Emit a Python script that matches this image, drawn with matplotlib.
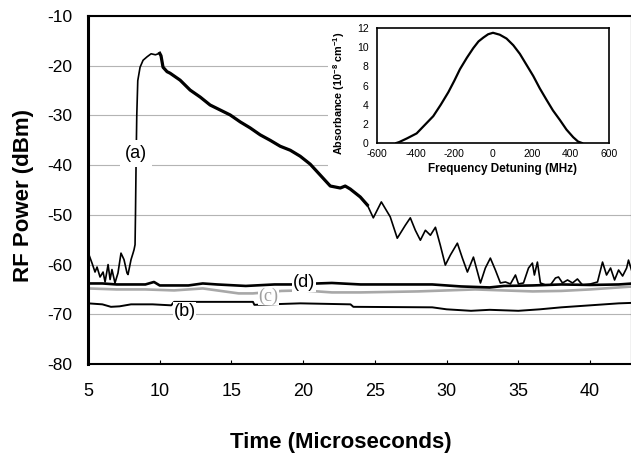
import matplotlib
matplotlib.use("Agg")
import matplotlib.pyplot as plt
from matplotlib.patches import Rectangle

plt.rcParams['font.family'] = ['Liberation Sans', 'DejaVu Sans']
plt.rcParams['mathtext.fontset'] = 'custom'
plt.rcParams['mathtext.rm'] = 'Liberation Sans'
plt.rcParams['mathtext.bf'] = 'Liberation Sans:bold'
plt.rcParams['axes.unicode_minus'] = False

# ---- data: curve (a) ----
t_a = [5.00, 5.28, 5.49, 5.63, 5.84, 6.05, 6.19, 6.40, 6.54, 6.67, 6.88, 7.09, 7.30, 7.51,
       7.72, 7.79, 8.00, 8.14, 8.21, 8.28, 8.31, 8.35, 8.40, 8.47, 8.63, 8.84, 9.12, 9.40,
       9.70, 10.00, 10.09, 10.23, 10.51, 10.72, 11.42, 12.12, 12.82, 13.51, 14.21, 14.91,
       15.61, 16.30, 17.00, 17.70, 18.40, 19.10, 19.79, 20.49, 21.19, 21.89, 22.59, 22.93,
       23.28, 23.63, 23.98, 24.47, 24.89, 25.45, 26.07, 26.56, 27.12, 27.47, 27.82, 28.17,
       28.52, 28.87, 29.22, 29.56, 29.91, 30.26, 30.75, 31.10, 31.45, 31.87, 32.36, 32.70,
       33.05, 33.40, 33.75, 34.10, 34.45, 34.80, 35.01, 35.36, 35.71, 35.98, 36.12, 36.33,
       36.54, 36.89, 37.24, 37.59, 37.80, 38.08, 38.43, 38.78, 39.12, 39.47, 40.03, 40.52,
       40.87, 41.15, 41.43, 41.71, 41.99, 42.27, 42.55, 42.68, 42.89]
p_a = [-57.5, -59.7, -61.5, -60.5, -62.5, -61.5, -63.5, -60.0, -63.0, -61.0, -63.7, -61.7,
       -57.7, -59.0, -61.7, -62.0, -59.0, -57.7, -57.0, -56.0, -50.0, -40.0, -30.0, -23.0,
       -20.3, -18.9, -18.2, -17.6, -17.8, -17.5, -18.0, -20.3, -21.2, -21.5, -22.9, -24.9,
       -26.3, -27.9, -28.9, -29.9, -31.3, -32.5, -33.9, -35.0, -36.2, -37.0, -38.2, -39.8,
       -42.0, -44.2, -44.6, -44.2, -44.8, -45.6, -46.4, -48.0, -50.6, -47.4, -50.4, -54.7,
       -52.1, -50.6, -53.1, -55.1, -53.1, -54.1, -52.5, -56.1, -60.1, -58.1, -55.7, -58.7,
       -61.5, -58.5, -63.7, -60.7, -58.7, -61.1, -63.7, -63.5, -63.9, -62.1, -63.9, -63.7,
       -60.7, -59.7, -62.1, -59.5, -63.7, -64.1, -64.1, -62.7, -62.5, -63.7, -63.1, -63.7,
       -62.9, -64.1, -63.9, -63.5, -59.5, -62.1, -60.7, -63.1, -61.1, -62.3, -60.7, -59.1,
       -61.1]

# ---- curve (d) ----
t_d = [5, 6, 7, 9, 9.6, 10, 12, 13, 14, 16, 18, 19.5, 21, 22, 24, 25, 27, 29, 31, 33, 34,
       36, 38, 40, 42, 43]
p_d = [-63.8, -63.8, -64.0, -64.0, -63.5, -64.2, -64.2, -63.8, -64.0, -64.3, -64.0, -64.0,
       -63.8, -63.7, -64.0, -64.0, -64.0, -64.0, -64.4, -64.6, -64.3, -64.2, -64.0, -64.1,
       -64.0, -63.8]

# ---- curve (c) ----
t_c = [5, 7, 9, 11, 13, 14, 15.5, 16.5, 18.5, 20, 22, 24, 26, 28, 30, 32, 34, 36, 38, 40,
       42, 43]
p_c = [-64.8, -65.0, -65.0, -65.2, -64.8, -65.2, -65.8, -65.8, -65.3, -65.2, -65.6, -65.6,
       -65.5, -65.4, -65.2, -65.0, -65.2, -65.4, -65.3, -65.0, -64.6, -64.4]

# ---- curve (b) ----
t_b = [5, 6, 6.6, 7.2, 8.0, 9.5, 10.8, 11.0, 16.5, 16.6, 19.8, 23.3, 23.5, 29, 30, 31.7,
       33, 35, 36.5, 38, 40, 42, 43]
p_b = [-67.8, -68.0, -68.5, -68.4, -68.0, -68.0, -68.2, -67.5, -67.5, -68.1, -67.8, -68.0,
       -68.5, -68.6, -69.0, -69.3, -69.1, -69.3, -69.0, -68.6, -68.2, -67.8, -67.7]

# ---- inset ----
f_in = [-500, -485, -446, -395, -352, -309, -270, -231, -200, -171, -135, -102, -75, -50,
        -25, 0, 35, 70, 105, 139, 172, 208, 242, 277, 310, 346, 380, 415, 440, 460]
a_in = [0.0, 0.1, 0.47, 1.0, 1.9, 2.8, 4.0, 5.3, 6.5, 7.7, 8.9, 9.9, 10.6, 11.0, 11.35,
        11.5, 11.3, 10.9, 10.2, 9.3, 8.2, 7.0, 5.7, 4.5, 3.4, 2.4, 1.4, 0.6, 0.15, 0.0]

x_ticks = [5, 10, 15, 20, 25, 30, 35, 40]
y_ticks = [-80, -70, -60, -50, -40, -30, -20, -10]
labels = ['(a)', '(b)', '(c)', '(d)']

W, H = 631, 455
fig = plt.figure(figsize=(W / 100, H / 100), dpi=100)
ax = fig.add_axes([88 / W, 1 - 364 / H, (630.5 - 88) / W, 348 / H])
ax.set_xlim(5, 42.82)
ax.set_ylim(-80, -10)
ax.set_xticks(x_ticks)
ax.set_yticks(y_ticks)
ax.set_axisbelow(True)
ax.grid(axis='y', color='#b4b4b4', lw=0.8)
ax.tick_params(axis='y', length=0, pad=11, labelsize=12.5)
ax.tick_params(axis='x', direction='in', length=3, width=0.8, pad=14, labelsize=13)
ax.spines['left'].set_linewidth(2.2)
ax.spines['top'].set_linewidth(1.5)
ax.spines['bottom'].set_linewidth(1.5)
ax.spines['right'].set_linewidth(0.8)

ax.plot(t_b, p_b, color='black', lw=1.4, zorder=2)
ax.plot(t_c, p_c, color='#a8a8a8', lw=1.9, zorder=2.1)
ax.plot(t_d, p_d, color='black', lw=1.9, zorder=2.2)
ax.plot(t_a, p_a, color='black', lw=1.2, zorder=2.3)
# the smooth decay part of (a) looks heavier in the reference
ax.plot(t_a[29:56], p_a[29:56], color='black', lw=2.3, zorder=2.3,
        solid_joinstyle='round')

bb = dict(facecolor='white', edgecolor='none', pad=0.5)
ax.text(8.35, -37.6, labels[0], fontsize=13, ha='center', va='center',
        bbox=dict(facecolor='white', edgecolor='none', pad=3.5), zorder=3)
ax.text(11.73, -69.4, labels[1], fontsize=13, ha='center', va='center', bbox=bb, zorder=3)
ax.text(17.58, -66.3, labels[2], fontsize=13, ha='center', va='center', color='#a0a0a0',
        family=['Liberation Serif', 'DejaVu Serif'], bbox=bb, zorder=3)
ax.text(20.06, -63.6, labels[3], fontsize=13, ha='center', va='center', bbox=bb, zorder=3)

ax.set_xlabel('Time (Microseconds)', fontsize=16, fontweight='bold')
ax.xaxis.set_label_coords(0.4654, -0.195)
ax.set_ylabel('RF Power (dBm)', fontsize=16, fontweight='bold')
ax.yaxis.set_label_coords(-0.099, 0.4856)

# white backdrop behind inset
ax.add_patch(Rectangle((328 / W, 1 - 172 / H), (631 - 328) / W, (172 - 17.5) / H,
                       transform=fig.transFigure, facecolor='white', edgecolor='none',
                       zorder=1, clip_on=False))

ins = fig.add_axes([377 / W, 1 - 143 / H, 232 / W, 115 / H], zorder=5)
ins.plot(f_in, a_in, color='black', lw=1.6)
ins.set_xlim(-600, 600)
ins.set_ylim(0, 12)
ins.set_xticks([-600, -400, -200, 0, 200, 400, 600])
ins.set_yticks([0, 2, 4, 6, 8, 10, 12])
ins.tick_params(length=0, labelsize=7.5)
ins.tick_params(axis='y', pad=6)
ins.tick_params(axis='x', pad=4)
for s in ins.spines.values():
    s.set_linewidth(1.2)
ins.set_xlabel('Frequency Detuning (MHz)', fontsize=8.5, fontweight='bold')
ins.xaxis.set_label_coords(0.543, -0.175)
ins.set_ylabel(r'Absorbance (10$^{\mathbf{-8}}$ cm$^{\mathbf{-1}}$)', fontsize=7.8,
               fontweight='bold')
ins.yaxis.set_label_coords(-0.13, 0.43)

fig.savefig('out.png', dpi=100)
